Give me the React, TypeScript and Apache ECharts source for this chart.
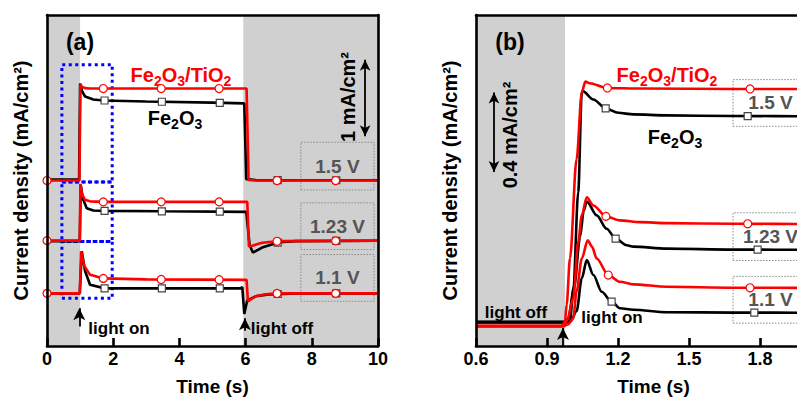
import React, { useEffect, useRef } from 'react';
import * as echarts from 'echarts';

const FONT = '"Liberation Sans", Arial, Helvetica, sans-serif';

// ---------- Panel (a): full light on / off cycle, 0-10 s ----------
// values in mA/cm² (stacked offsets, y axis unlabeled)
const a15Fe2O3: [number, number][] = [
  [0, 2.175], [0.97, 2.175], [1.0, 3.43], [1.06, 3.33], [1.15, 3.26], [1.4, 3.22], [1.7, 3.208],
  [3.0, 3.195], [5.0, 3.18], [5.96, 3.17], [6.02, 2.18], [6.3, 2.168], [10, 2.165],
];
const a15TiO2: [number, number][] = [
  [0, 2.162], [0.98, 2.162], [1.01, 3.416], [1.05, 3.39], [1.15, 3.37], [1.3, 3.364],
  [6.03, 3.364], [6.09, 2.17], [6.3, 2.162], [10, 2.162],
];
const a123Fe2O3: [number, number][] = [
  [0, 1.37], [0.99, 1.37], [1.02, 2.104], [1.08, 1.93], [1.2, 1.8], [1.4, 1.77], [1.75, 1.766],
  [3.5, 1.76], [6.02, 1.753], [6.12, 1.32], [6.22, 1.221], [6.5, 1.286], [7.0, 1.355], [7.5, 1.37], [10, 1.375],
];
const a123TiO2: [number, number][] = [
  [0, 1.377], [0.99, 1.377], [1.01, 2.117], [1.06, 1.98], [1.15, 1.91], [1.3, 1.89], [1.7, 1.883],
  [6.05, 1.883], [6.1, 1.3], [6.2, 1.31], [6.5, 1.35], [7.0, 1.37], [10, 1.377],
];
const a11Fe2O3: [number, number][] = [
  [0, 0.688], [0.99, 0.688], [1.05, 1.238], [1.15, 0.98], [1.3, 0.8], [1.75, 0.753],
  [5.85, 0.753], [5.9, 0.77], [5.96, 0.42], [6.05, 0.597], [6.3, 0.649], [6.7, 0.675], [7.5, 0.688], [10, 0.688],
];
const a11TiO2: [number, number][] = [
  [0, 0.688], [0.99, 0.688], [1.03, 1.234], [1.12, 1.05], [1.3, 0.93], [1.39, 0.92], [1.7, 0.883],
  [3.0, 0.87], [6.03, 0.864], [6.07, 0.584], [6.3, 0.649], [6.6, 0.675], [7.0, 0.688], [10, 0.688],
];
const aMarkerTimesTiO2 = [0, 1.7, 3.45, 5.2, 6.95, 8.72];
const aMarkerTimesFe2O3 = [1.74, 3.47, 5.22, 6.97, 8.74];

// ---------- Panel (b): zoom on the light-on transient, 0.6-2.1 s ----------
const b15Fe2O3: [number, number][] = [
  [0.6, 0.12], [0.97, 0.12], [0.997, 0.125], [1.011, 0.275], [1.032, 0.775], [1.047, 1.275], [1.051, 1.282],
  [1.096, 1.24], [1.148, 1.195], [1.201, 1.173], [1.265, 1.165], [1.406, 1.16], [1.686, 1.157], [2.1, 1.155],
];
const b15TiO2: [number, number][] = [
  [0.6, 0.1], [0.963, 0.1], [0.976, 0.125], [0.983, 0.207], [0.997, 0.44], [1.025, 0.94], [1.047, 1.275],
  [1.062, 1.33], [1.08, 1.322], [1.152, 1.298], [1.3, 1.295], [1.7, 1.293], [2.1, 1.293],
];
const b123Fe2O3: [number, number][] = [
  [0.6, 0.12], [0.975, 0.12], [0.99, 0.14], [1.015, 0.3], [1.04, 0.55], [1.055, 0.68], [1.068, 0.727],
  [1.11, 0.657], [1.152, 0.59], [1.19, 0.54], [1.237, 0.507], [1.265, 0.5], [1.406, 0.49], [1.687, 0.485], [2.1, 0.483],
];
const b123TiO2: [number, number][] = [
  [0.6, 0.1], [0.97, 0.1], [0.985, 0.13], [1.011, 0.24], [1.032, 0.525], [1.047, 0.657], [1.068, 0.748],
  [1.096, 0.707], [1.149, 0.652], [1.208, 0.632], [1.293, 0.623], [1.406, 0.618], [1.687, 0.615], [2.1, 0.613],
];
const b11Fe2O3: [number, number][] = [
  [0.6, 0.12], [0.98, 0.12], [1.0, 0.125], [1.025, 0.175], [1.047, 0.34], [1.068, 0.432], [1.096, 0.357],
  [1.131, 0.273], [1.173, 0.223], [1.208, 0.19], [1.265, 0.182], [1.406, 0.17], [1.687, 0.168], [2.1, 0.167],
];
const b11TiO2: [number, number][] = [
  [0.6, 0.1], [0.97, 0.1], [0.99, 0.11], [1.011, 0.14], [1.025, 0.275], [1.047, 0.44], [1.072, 0.532],
  [1.09, 0.5], [1.11, 0.44], [1.159, 0.357], [1.208, 0.323], [1.265, 0.31], [1.406, 0.298], [1.687, 0.293], [2.1, 0.292],
];
const bMarkers15TiO2 = [1.155, 1.758];
const bMarkers15Fe2O3 = [1.148, 1.748];
const bMarkers123TiO2 = [1.149, 1.748];
const bMarkers123Fe2O3 = [1.19, 1.79];
const bMarkers11TiO2 = [1.159, 1.758];
const bMarkers11Fe2O3 = [1.173, 1.776];

const voltageLabels = ['1.5 V', '1.23 V', '1.1 V'];
const aTickInterval = 2;
const bTickInterval = 0.3;

function interp(curve: [number, number][], t: number): number {
  for (let i = 0; i < curve.length - 1; i++) {
    const [x0, y0] = curve[i];
    const [x1, y1] = curve[i + 1];
    if (t >= x0 && t <= x1) {
      return x1 === x0 ? y0 : y0 + ((y1 - y0) * (t - x0)) / (x1 - x0);
    }
  }
  return curve[curve.length - 1][1];
}

const RED = '#ff0000';
const BLACK = '#000000';

function lineSeries(data: [number, number][], color: string, idx: number, smooth: number) {
  return {
    type: 'line', xAxisIndex: idx, yAxisIndex: idx, data, symbol: 'none', showSymbol: false,
    smooth, smoothMonotone: 'x', lineStyle: { color, width: 2.6 }, z: 2, silent: true,
  };
}
function markerSeries(curve: [number, number][], times: number[], circle: boolean, idx: number) {
  return {
    type: 'scatter', xAxisIndex: idx, yAxisIndex: idx,
    data: times.map((t) => [t, interp(curve, t)]),
    symbol: circle ? 'circle' : 'rect', symbolSize: circle ? 8 : 7,
    itemStyle: { color: '#ffffff', borderColor: circle ? RED : '#444444', borderWidth: 1.2, opacity: 1 },
    z: 3, silent: true,
  };
}

let measureCtx: CanvasRenderingContext2D | null = null;
function measure(text: string, font: string): number {
  if (!measureCtx) measureCtx = document.createElement('canvas').getContext('2d');
  measureCtx!.font = font;
  return measureCtx!.measureText(text).width;
}

// chemical formula with subscripts, centred at (cx, cy)
function chem(parts: string[], color: string, cx: number, cy: number) {
  const mainFont = `bold 20px ${FONT}`;
  const subFont = `bold 14px ${FONT}`;
  const widths = parts.map((p, i) => measure(p, i % 2 === 0 ? mainFont : subFont));
  const total = widths.reduce((a, b) => a + b, 0);
  let x = -total / 2;
  const children = parts.map((p, i) => {
    const el = {
      type: 'text', x, y: i % 2 === 0 ? 0 : 6, silent: true,
      style: {
        text: p, fill: color, font: i % 2 === 0 ? mainFont : subFont,
        align: 'left', verticalAlign: 'middle', textAlign: 'left', textVerticalAlign: 'middle',
      },
    };
    x += widths[i];
    return el;
  });
  return { type: 'group', x: cx, y: cy, z: 100, children };
}
function label(text: string, x: number, y: number, size: number, rotation = 0) {
  return {
    type: 'text', x, y, z: 100, rotation, silent: true,
    style: {
      text, fill: '#000', font: `bold ${size}px ${FONT}`,
      align: 'center', verticalAlign: 'middle', textAlign: 'center', textVerticalAlign: 'middle',
    },
  };
}

const axisFont = { fontFamily: FONT, fontWeight: 'bold', color: '#000' };

function frameAxis(grid: number, position: string) {
  return {
    gridIndex: grid, type: 'value', position, min: 0, max: 1, z: 10,
    axisLine: { show: true, onZero: false, lineStyle: { color: '#000', width: 2.6 } },
    axisTick: { show: false }, axisLabel: { show: false }, splitLine: { show: false },
  };
}

const CHART_W = 840;

export default function App() {
  const ref = useRef<HTMLDivElement>(null);
  useEffect(() => {
    document.body.style.margin = '0';
    document.body.style.overflow = 'hidden';
    const chart = echarts.init(ref.current!, undefined, { renderer: 'svg' });

    const aBox = (name: string, y0: number, y1: number) => [
      { name, coord: [7.67, y0] }, { coord: [9.88, y1] },
    ];
    const bBox = (name: string, y0: number, y1: number) => [
      { name, coord: [1.686, y0] }, { coord: [2.003, y1] },
    ];
    const blueRect = (y0: number, y1: number) => [
      { name: '', coord: [0.45, y0], label: { show: false },
        itemStyle: { color: 'rgba(0,0,0,0)', borderColor: '#0000ff', borderWidth: 3, borderType: [3, 3.5] } },
      { coord: [1.97, y1] },
    ];
    const boxStyle = (fill: string) => ({
      silent: true,
      itemStyle: { color: fill, borderColor: '#8a8a8a', borderWidth: 1, borderType: [1.5, 1.5] },
      label: { show: true, position: 'inside', color: '#555555', fontSize: 19, fontWeight: 'bold', fontFamily: FONT },
    });
    const arrow = (x: number, y0: number, y1: number, both: boolean, size: number[]) => [
      { coord: [x, y0], symbol: both ? 'arrow' : 'none', symbolSize: size },
      { coord: [x, y1], symbol: 'arrow', symbolSize: size },
    ];

    const option: any = {
      animation: false,
      grid: [
        { left: 47, right: CHART_W - 378, top: 15, bottom: 53 },
        { left: 476, right: CHART_W - 831, top: 15, bottom: 53 },
      ],
      xAxis: [
        {
          gridIndex: 0, type: 'value', min: 0, max: 10, interval: aTickInterval, position: 'bottom', z: 10,
          axisLine: { onZero: false, lineStyle: { color: '#000', width: 2.6 } },
          axisTick: { inside: true, length: 8, lineStyle: { color: '#000', width: 2.6 } },
          axisLabel: { ...axisFont, fontSize: 18, margin: 4 },
          splitLine: { show: false },
          name: 'Time (s)', nameLocation: 'middle', nameGap: 31, nameTextStyle: { ...axisFont, fontSize: 19 },
        },
        {
          gridIndex: 1, type: 'value', min: 0.6, max: 2.1, interval: bTickInterval, position: 'bottom', z: 10,
          axisLine: { onZero: false, lineStyle: { color: '#000', width: 2.6 } },
          axisTick: { inside: true, length: 8, lineStyle: { color: '#000', width: 2.6 } },
          axisLabel: { ...axisFont, fontSize: 18, margin: 4, showMaxLabel: false, formatter: (v: number) => v.toFixed(1) },
          splitLine: { show: false },
          name: 'Time (s)', nameLocation: 'middle', nameGap: 31, nameTextStyle: { ...axisFont, fontSize: 19 },
        },
        frameAxis(0, 'top'),
        frameAxis(1, 'top'),
      ],
      yAxis: [
        {
          gridIndex: 0, type: 'value', min: 0, max: 4.325, z: 10,
          axisLine: { show: true, onZero: false, lineStyle: { color: '#000', width: 2.6 } },
          axisTick: { show: false }, axisLabel: { show: false }, splitLine: { show: false },
          name: 'Current density (mA/cm²)', nameLocation: 'middle', nameGap: 16,
          nameTextStyle: { ...axisFont, fontSize: 20 },
        },
        {
          gridIndex: 1, type: 'value', min: 0, max: 1.665, z: 10,
          axisLine: { show: true, onZero: false, lineStyle: { color: '#000', width: 2.6 } },
          axisTick: { show: false }, axisLabel: { show: false }, splitLine: { show: false },
          name: 'Current density (mA/cm²)', nameLocation: 'middle', nameGap: 16,
          nameTextStyle: { ...axisFont, fontSize: 20 },
        },
        frameAxis(0, 'right'),
        frameAxis(1, 'right'),
      ],
      series: [
        // backgrounds (light off)
        {
          type: 'line', xAxisIndex: 0, yAxisIndex: 0, data: [], z: 1, silent: true,
          markArea: { silent: true, itemStyle: { color: '#d0d0d0' }, data: [[{ xAxis: 0 }, { xAxis: 1 }], [{ xAxis: 5.93 }, { xAxis: 10 }]] },
        },
        {
          type: 'line', xAxisIndex: 1, yAxisIndex: 1, data: [], z: 1, silent: true,
          markArea: { silent: true, itemStyle: { color: '#d0d0d0' }, data: [[{ xAxis: 0.6 }, { xAxis: 0.976 }]] },
        },
        // panel a
        lineSeries(a15Fe2O3, BLACK, 0, 0),
        lineSeries(a123Fe2O3, BLACK, 0, 0),
        lineSeries(a11Fe2O3, BLACK, 0, 0),
        lineSeries(a15TiO2, RED, 0, 0),
        lineSeries(a123TiO2, RED, 0, 0),
        lineSeries(a11TiO2, RED, 0, 0),
        markerSeries(a15Fe2O3, aMarkerTimesFe2O3, false, 0),
        markerSeries(a123Fe2O3, aMarkerTimesFe2O3, false, 0),
        markerSeries(a11Fe2O3, aMarkerTimesFe2O3, false, 0),
        markerSeries(a15TiO2, aMarkerTimesTiO2, true, 0),
        markerSeries(a123TiO2, aMarkerTimesTiO2, true, 0),
        markerSeries(a11TiO2, aMarkerTimesTiO2, true, 0),
        // panel b
        lineSeries(b15Fe2O3, BLACK, 1, 0.3),
        lineSeries(b123Fe2O3, BLACK, 1, 0.3),
        lineSeries(b11Fe2O3, BLACK, 1, 0.3),
        lineSeries(b15TiO2, RED, 1, 0.3),
        lineSeries(b123TiO2, RED, 1, 0.3),
        lineSeries(b11TiO2, RED, 1, 0.3),
        markerSeries(b15Fe2O3, bMarkers15Fe2O3, false, 1),
        markerSeries(b123Fe2O3, bMarkers123Fe2O3, false, 1),
        markerSeries(b11Fe2O3, bMarkers11Fe2O3, false, 1),
        markerSeries(b15TiO2, bMarkers15TiO2, true, 1),
        markerSeries(b123TiO2, bMarkers123TiO2, true, 1),
        markerSeries(b11TiO2, bMarkers11TiO2, true, 1),
        // overlays panel a
        {
          type: 'line', xAxisIndex: 0, yAxisIndex: 0, data: [], z: 5, silent: true,
          markArea: {
            ...boxStyle('rgba(208,208,208,0.55)'),
            data: [
              aBox(voltageLabels[0], 2.039, 2.662),
              aBox(voltageLabels[1], 1.26, 1.87),
              aBox(voltageLabels[2], 0.584, 1.195),
              blueRect(2.143, 3.675),
              blueRect(1.364, 2.143),
              blueRect(0.623, 1.364),
            ],
          },
          markLine: {
            silent: true, label: { show: false }, lineStyle: { color: '#000', width: 1.8, type: 'solid' },
            data: [
              arrow(9.61, 2.74, 3.74, true, [8, 11]),
              arrow(0.976, 0.256, 0.494, false, [9, 12]),
              arrow(5.98, 0.2, 0.364, false, [9, 12]),
            ],
          },
        },
        // overlays panel b
        {
          type: 'line', xAxisIndex: 1, yAxisIndex: 1, data: [], z: 5, silent: true,
          markArea: {
            ...boxStyle('rgba(255,255,255,0.6)'),
            data: [
              bBox(voltageLabels[0], 1.105, 1.34),
              bBox(voltageLabels[1], 0.43, 0.67),
              bBox(voltageLabels[2], 0.115, 0.35),
            ],
          },
          markLine: {
            silent: true, label: { show: false }, lineStyle: { color: '#000', width: 1.8, type: 'solid' },
            data: [
              arrow(0.676, 0.875, 1.275, true, [8, 11]),
              arrow(0.9675, 0.0, 0.09, false, [9, 12]),
            ],
          },
        },
      ],
      graphic: [
        label('(a)', 80, 42, 23),
        chem(['Fe', '2', 'O', '3', '/TiO', '2'], RED, 181, 75),
        chem(['Fe', '2', 'O', '3'], BLACK, 175, 118),
        label('1 mA/cm²', 348, 97, 20, Math.PI / 2),
        label('light on', 119, 328, 17),
        label('light off', 282, 328, 17),
        label('(b)', 510, 42, 23),
        chem(['Fe', '2', 'O', '3', '/TiO', '2'], RED, 667, 75),
        chem(['Fe', '2', 'O', '3'], BLACK, 675, 137),
        label('0.4 mA/cm²', 510, 135, 20, Math.PI / 2),
        label('light off', 516, 312, 17),
        label('light on', 612, 317, 17),
      ],
    };
    chart.setOption(option);
    return () => chart.dispose();
  }, []);
  return (
    <div style={{ width: 797, height: 401, overflow: 'hidden', position: 'relative' }}>
      <div ref={ref} style={{ width: CHART_W, height: 401 }} />
    </div>
  );
}
